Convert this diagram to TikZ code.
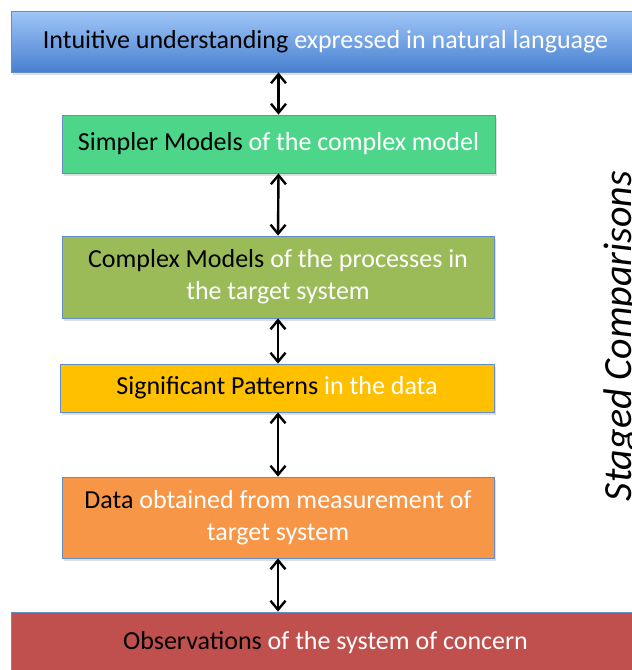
\documentclass[tikz,border=0pt]{standalone}
\usepackage{fontspec}
\setmainfont{Carlito}
\usetikzlibrary{arrows.meta,shadows}

\definecolor{topLight}{RGB}{160,198,248}
\definecolor{topDark}{RGB}{72,128,208}
\definecolor{simpleFill}{RGB}{77,214,138}
\definecolor{complexFill}{RGB}{155,187,89}
\definecolor{patternFill}{RGB}{255,192,0}
\definecolor{dataFill}{RGB}{247,150,70}
\definecolor{obsFill}{RGB}{192,80,77}
\definecolor{edgeBlue}{RGB}{100,140,200}

\tikzset{
  stage/.style={draw=edgeBlue, line width=0.8pt, rectangle, inner sep=0pt,
    align=center, font=\fontsize{26}{32}\selectfont,
    drop shadow={opacity=0.25, shadow xshift=2pt, shadow yshift=-3pt}},
  link/.style={line width=2.4pt, {Straight Barb[length=9pt,width=15pt]}-{Straight Barb[length=9pt,width=15pt]}}
}
\newcommand{\rest}[1]{\textcolor{white}{#1}}

\begin{document}
\begin{tikzpicture}[x=1pt,y=-1pt]
\useasboundingbox (0,0) rectangle (632,670);
\clip (0,0) rectangle (632,670);

% stages, from intuition down to observation
\node[stage, top color=topLight, bottom color=topDark,
      minimum width=629pt, minimum height=61pt] (intuit) at (325.5,41.5)
  {Intuitive understanding \rest{expressed in natural language}};

\node[stage, fill=simpleFill, minimum width=433pt, minimum height=58pt]
  (simple) at (278.5,144)
  {Simpler Models \rest{of the complex model}};

\node[stage, fill=complexFill, minimum width=432pt, minimum height=82pt]
  (complex) at (278,277)
  {Complex Models \rest{of the processes in}\\\rest{the target system}};

\node[stage, fill=patternFill, minimum width=434pt, minimum height=48pt]
  (pattern) at (277,388)
  {Significant Patterns \rest{in the data}};

\node[stage, fill=dataFill, minimum width=432pt, minimum height=81pt]
  (data) at (278,517.5)
  {Data \rest{obtained from measurement of}\\\rest{target system}};

\node[stage, fill=obsFill, minimum width=629pt, minimum height=62pt]
  (obs) at (325.5,643)
  {Observations \rest{of the system of concern}};

% two-way comparisons between neighbouring stages
\draw[link] (simple.north |- intuit.south) -- (simple.north);
\draw[link] (simple.south) -- (complex.north);
\draw[link] (complex.south) -- (complex.south |- pattern.north);
\draw[link] (complex.south |- pattern.south) -- (data.north);
\draw[link] (data.south) -- (data.south |- obs.north);

% side label, partly running off the right edge
\node[rotate=90, anchor=base, inner sep=0pt, font=\fontsize{40}{46}\itshape]
  (staged) at (631,336) {Staged Comparisons};
\end{tikzpicture}
\end{document}
